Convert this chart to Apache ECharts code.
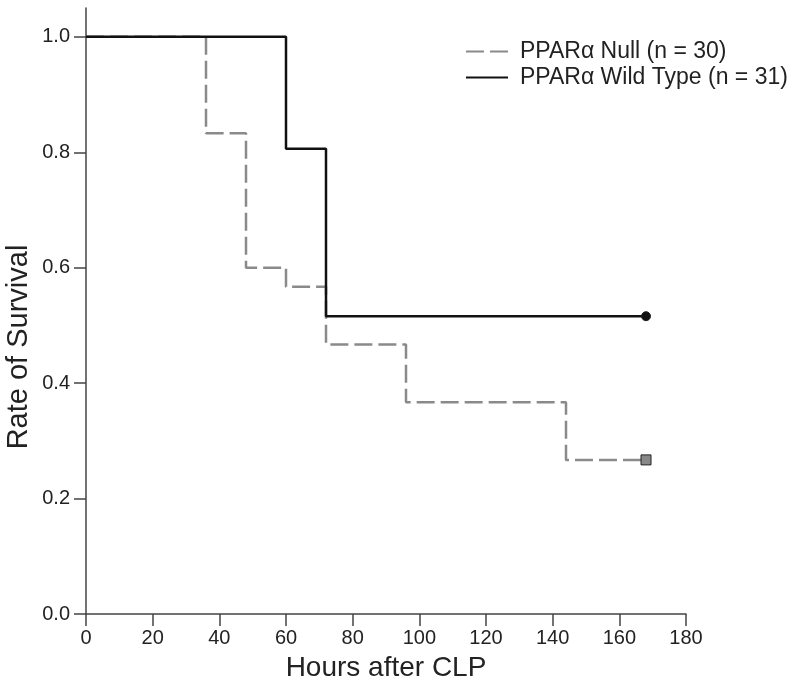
<!DOCTYPE html>
<html><head><meta charset="utf-8">
<script src="https://cdn.jsdelivr.net/npm/echarts@6/dist/echarts.min.js"></script>
<style>html,body{margin:0;padding:0;background:#fff}#c{width:800px;height:686px}</style>
</head><body><div id="c"></div>
<script>
const nullHours = [0, 36, 48, 60, 72, 96, 144, 168];
const nullSurvival = [1.0, 0.833, 0.6, 0.567, 0.467, 0.367, 0.267, 0.267];
const wtHours = [0, 60, 72, 168];
const wtSurvival = [1.0, 0.806, 0.516, 0.516];
const xTicks = [0, 20, 40, 60, 80, 100, 120, 140, 160, 180];
const yTicks = [0, 0.2, 0.4, 0.6, 0.8, 1.0];
const seriesNames = ['PPARα Null (n = 30)', 'PPARα Wild Type (n = 31)'];
const xTitle = 'Hours after CLP';
const yTitle = 'Rate of Survival';

function toData(xs, ys, sym, color) {
  return xs.map((x, i) => {
    if (i === xs.length - 1) {
      return {value: [x, ys[i]], symbol: sym, symbolSize: sym === 'rect' ? 10 : 9,
        itemStyle: {color: color, borderColor: '#222', borderWidth: 1}};
    }
    return {value: [x, ys[i]], symbol: 'none'};
  });
}

const chart = echarts.init(document.getElementById('c'));
const axisLine = {show: true, lineStyle: {color: '#444', width: 1.5}};
const font = 'Liberation Sans';
chart.setOption({
  animation: false,
  grid: {left: 86, right: 114, top: 8, bottom: 72, containLabel: false, outerBoundsMode: 'none'},
  legend: {
    orient: 'vertical', left: 460, top: 35, itemGap: 3,
    itemWidth: 42, itemHeight: 14,
    itemStyle: {opacity: 0},
    textStyle: {fontFamily: font, fontSize: 23, color: '#222', padding: [0, 0, 0, 7]},
    data: seriesNames
  },
  graphic: [{
    type: 'text', x: 19, y: 347, rotation: Math.PI / 2,
    style: {text: yTitle, font: '29px "Liberation Sans"', fill: '#222',
      align: 'center', verticalAlign: 'middle'}
  }],
  xAxis: {
    type: 'value', min: 0, max: 180, interval: 20,
    name: xTitle, nameLocation: 'middle', nameGap: 40,
    nameTextStyle: {fontFamily: font, fontSize: 28, color: '#222'},
    axisLine: axisLine,
    axisTick: {show: true, length: 12, inside: false, lineStyle: {color: '#444', width: 1.5}, customValues: xTicks},
    axisLabel: {fontFamily: font, fontSize: 20, color: '#222', margin: 14, customValues: xTicks},
    splitLine: {show: false}
  },
  yAxis: {
    type: 'value', min: 0, max: 1.05,
    axisLine: axisLine,
    axisTick: {show: true, length: 12, lineStyle: {color: '#444', width: 1.5}, customValues: yTicks},
    axisLabel: {fontFamily: font, fontSize: 20, color: '#222', margin: 16,
      customValues: yTicks, formatter: v => v.toFixed(1)},
    splitLine: {show: false}
  },
  series: [
    {
      name: seriesNames[0], type: 'line', step: 'end', showSymbol: true, symbol: 'none',
      lineStyle: {color: '#8a8a8a', width: 2.5, type: [18, 6]},
      itemStyle: {color: '#8a8a8a'},
      data: toData(nullHours, nullSurvival, 'rect', '#888'),
      z: 2
    },
    {
      name: seriesNames[1], type: 'line', step: 'end', showSymbol: true, symbol: 'none',
      lineStyle: {color: '#111', width: 2.5},
      itemStyle: {color: '#111'},
      data: toData(wtHours, wtSurvival, 'circle', '#111'),
      z: 3
    }
  ]
});
</script></body></html>
